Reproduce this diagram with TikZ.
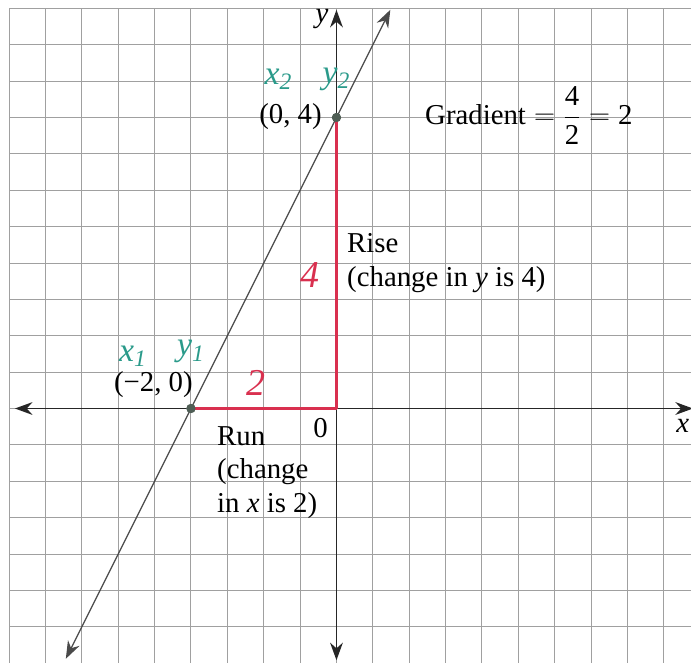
\documentclass[tikz,border=0pt]{standalone}
\usepackage{amsmath}
\usepackage{fontspec}
\setmainfont{Liberation Serif}
\usepackage{tikz}
\usetikzlibrary{arrows.meta}
\definecolor{GridGray}{HTML}{A0A0A0}
\definecolor{PenRed}{HTML}{D9304F}
\definecolor{PenTeal}{HTML}{2A9A8A}
\definecolor{DotInk}{HTML}{4F5E55}
\definecolor{LineInk}{HTML}{4A4A4A}

\begin{document}
\begin{tikzpicture}[
  x=1.82cm, y=1.82cm,
  font=\fontsize{20.5}{24}\selectfont,
  gridline/.style={draw=GridGray,line width=.7pt},
  axis/.style={{Stealth[length=4.4mm,width=3.2mm]}-{Stealth[length=4.4mm,width=3.2mm]},
               line width=1.1pt,draw=black!85},
  graphline/.style={{Stealth[length=4.4mm,width=3.2mm]}-{Stealth[length=4.4mm,width=3.2mm]},
                    line width=.9pt,draw=LineInk},
  pt/.style={circle,fill=DotInk,inner sep=0pt,minimum size=2.3mm},
  pen/.style={line width=2.8pt,draw=PenRed,line cap=round,line join=round},
  lbl/.style={inner sep=0pt},
  hand/.style={inner sep=0pt,text=PenTeal,font=\fontsize{24}{24}\selectfont\itshape},
  redhand/.style={inner sep=0pt,text=PenRed,font=\fontsize{27}{27}\selectfont\itshape}]

\useasboundingbox (-4.625,-3.485) rectangle (4.873,5.615);
\draw[gridline,step=.5] (-4.5,-3.6) grid (5,5.5);

\coordinate (O) at (0,0);
\coordinate (xl) at (-4.42,0);
\coordinate (xr) at (4.9,0);
\coordinate (yb) at (0,-3.46);
\coordinate (yt) at (0,5.48);
\coordinate (lo) at (-3.72,-3.44);
\coordinate (hi) at (0.74,5.48);

\draw[axis] (xl) -- (xr);
\draw[axis] (yb) -- (yt);
\draw[graphline] (lo) -- (hi);

\node[pt] (A) at (-2,0) {};
\node[pt] (B) at (0,4) {};
\draw[pen] (A.center) -- (O) -- (B.center);
\node[pt] at (A) {};
\node[pt] at (B) {};

\node[lbl,anchor=base,font=\fontsize{20.5}{24}\selectfont\itshape] (ylab) at (-0.2,5.3) {y};
\node[lbl,anchor=base east,font=\fontsize{20.5}{24}\selectfont\itshape] (xlab) at (4.85,-0.33) {x};
\node[lbl,anchor=base east] (zero) at (-0.117,-0.392) {0};

\node[lbl,anchor=base east] (Alab) at (-1.973,0.227) {(−2, 0)};
\node[lbl,anchor=base east] (Blab) at (-0.199,3.924) {(0, 4)};
\node[lbl,anchor=base west] (grad) at (1.216,3.897)
  {$\text{Gradient} = \dfrac{\text{4}}{\text{2}} = \text{2}$};

\node[lbl,anchor=north west,align=left] (rise) at (0.144,2.412)
  {Rise\\(change in \textit{y} is 4)};
\node[lbl,anchor=north west,align=left] (run) at (-1.643,-0.241)
  {Run\\(change\\in \textit{x} is 2)};

\node[hand] (x1) at (-2.8,0.72) {x\textsubscript{1}};
\node[hand] (y1) at (-2.0,0.78) {y\textsubscript{1}};
\node[hand] (x2) at (-0.8,4.53) {x\textsubscript{2}};
\node[hand] (y2) at (0.0,4.53) {y\textsubscript{2}};
\node[redhand] (run2) at (-1.107,0.351) {2};
\node[redhand] (rise4) at (-0.37,1.835) {4};
\end{tikzpicture}
\end{document}
